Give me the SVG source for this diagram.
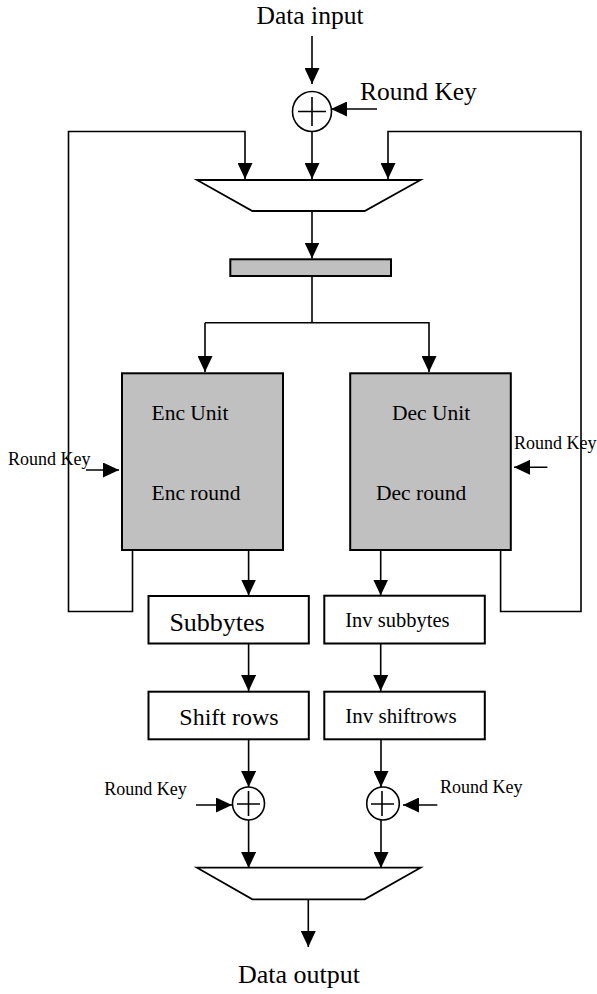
<svg xmlns="http://www.w3.org/2000/svg" width="597" height="994" viewBox="0 0 597 994">
<style>
  .ln{fill:none;stroke:#000;stroke-width:1.6}
  .arr{marker-end:url(#ah)}
  .box{fill:#fff;stroke:#000;stroke-width:2}
  .grey{fill:#c0c0c0;stroke:#000;stroke-width:2}
  .xor{fill:#fff;stroke:#000;stroke-width:1.6}
  .mux{fill:#fff;stroke:#000;stroke-width:1.8}
  .t{font-family:"Liberation Serif","Times New Roman","DejaVu Serif",serif;fill:#000}
</style>
<defs>
  <marker id="ah" markerUnits="userSpaceOnUse" markerWidth="16" markerHeight="15" refX="16" refY="7.5" orient="auto">
    <path d="M0,0 L16,7.5 L0,15 z" fill="#000"/>
  </marker>
</defs>
<rect width="597" height="994" fill="#fff"/>

<g id="connectors">
  <line class="ln arr" x1="312" y1="36" x2="312" y2="84"/>
  <line class="ln arr" x1="377" y1="109" x2="331" y2="109"/>
  <line class="ln arr" x1="312" y1="131.5" x2="312" y2="179"/>
  <polyline class="ln arr" points="132.5,550 132.5,611.5 68.5,611.5 68.5,131.5 245,131.5 245,179"/>
  <polyline class="ln arr" points="500.6,550 500.6,611.5 581,611.5 581,131.5 388,131.5 388,179"/>
  <line class="ln arr" x1="312" y1="211" x2="312" y2="258.5"/>
  <line class="ln" x1="312" y1="276" x2="312" y2="322.7"/>
  <polyline class="ln arr" points="205,322.7 429,322.7 429,372"/>
  <line class="ln arr" x1="205" y1="322.7" x2="205" y2="372"/>
  <line class="ln arr" x1="86" y1="470" x2="119" y2="470"/>
  <line class="ln arr" x1="547.4" y1="467.3" x2="514" y2="467.3"/>
  <line class="ln arr" x1="248.6" y1="550" x2="248.6" y2="595.5"/>
  <line class="ln arr" x1="380.7" y1="550" x2="380.7" y2="595.5"/>
  <line class="ln arr" x1="248.6" y1="644" x2="248.6" y2="691"/>
  <line class="ln arr" x1="380.7" y1="644" x2="380.7" y2="691"/>
  <line class="ln arr" x1="248.6" y1="739.5" x2="248.6" y2="787"/>
  <line class="ln arr" x1="381" y1="739.5" x2="381" y2="787"/>
  <line class="ln arr" x1="196" y1="805" x2="232" y2="805"/>
  <line class="ln arr" x1="437.3" y1="805" x2="403" y2="805"/>
  <line class="ln arr" x1="248.6" y1="820" x2="248.6" y2="868"/>
  <line class="ln arr" x1="381" y1="820" x2="381" y2="868"/>
  <line class="ln arr" x1="308.3" y1="899.3" x2="308.3" y2="947"/>
</g>

<g id="label-data-input"><text class="t" font-family="Liberation Serif, serif" x="310" y="24" font-size="25.5" text-anchor="middle">Data input</text></g>
<g id="xor-top">
  <ellipse class="xor" cx="312" cy="111.5" rx="19.5" ry="20"/>
  <path class="ln" d="M298,111.5 H326 M312,97 V126"/>
  <text class="t" font-family="Liberation Serif, serif" x="360" y="100" font-size="25.5">Round Key</text>
</g>
<g id="mux-top"><polygon class="mux" points="197,180 420.5,180 364.7,211 252.4,211"/></g>
<g id="register"><rect class="grey" x="230.3" y="259.3" width="160.7" height="16.7"/></g>
<g id="enc-unit">
  <rect class="grey" x="122" y="373.3" width="161" height="176.7"/>
  <text class="t" font-family="Liberation Serif, serif" x="151.5" y="420" font-size="21.5">Enc Unit</text>
  <text class="t" font-family="Liberation Serif, serif" x="151.5" y="500" font-size="21.5">Enc round</text>
</g>
<g id="dec-unit">
  <rect class="grey" x="350.2" y="373.3" width="160.6" height="176.7"/>
  <text class="t" font-family="Liberation Serif, serif" x="392" y="420" font-size="21.5">Dec Unit</text>
  <text class="t" font-family="Liberation Serif, serif" x="376" y="500" font-size="21.5">Dec round</text>
</g>
<g id="rk-enc"><text class="t" font-family="Liberation Serif, serif" x="8" y="465" font-size="18">Round Key</text></g>
<g id="rk-dec"><text class="t" font-family="Liberation Serif, serif" x="514" y="449.3" font-size="18">Round Key</text></g>
<g id="subbytes">
  <rect class="box" x="148.5" y="596" width="160.3" height="47.5"/>
  <text class="t" font-family="Liberation Serif, serif" x="169.4" y="630.5" font-size="26">Subbytes</text>
</g>
<g id="inv-subbytes">
  <rect class="box" x="324.3" y="595.7" width="160.5" height="47.8"/>
  <text class="t" font-family="Liberation Serif, serif" x="345.3" y="626.7" font-size="20.5">Inv subbytes</text>
</g>
<g id="shift-rows">
  <rect class="box" x="148.5" y="691.7" width="160.3" height="47.6"/>
  <text class="t" font-family="Liberation Serif, serif" x="179.3" y="725" font-size="24">Shift rows</text>
</g>
<g id="inv-shiftrows">
  <rect class="box" x="324.3" y="691.7" width="160.5" height="47.6"/>
  <text class="t" font-family="Liberation Serif, serif" x="345.3" y="723.3" font-size="21">Inv shiftrows</text>
</g>
<g id="xor-enc">
  <ellipse class="xor" cx="248.5" cy="803.5" rx="16" ry="16.5"/>
  <path class="ln" d="M237,804 H260 M248.5,791 V816"/>
  <text class="t" font-family="Liberation Serif, serif" x="104.3" y="795" font-size="18">Round Key</text>
</g>
<g id="xor-dec">
  <ellipse class="xor" cx="383" cy="803.5" rx="16.3" ry="16.5"/>
  <path class="ln" d="M371,804 H394 M382,791 V816"/>
  <text class="t" font-family="Liberation Serif, serif" x="440" y="793.3" font-size="18">Round Key</text>
</g>
<g id="mux-bottom"><polygon class="mux" points="197,867.7 420.5,867.7 364.7,899.3 252.4,899.3"/></g>
<g id="label-data-output"><text class="t" font-family="Liberation Serif, serif" x="238" y="983.3" font-size="26">Data output</text></g>
</svg>
